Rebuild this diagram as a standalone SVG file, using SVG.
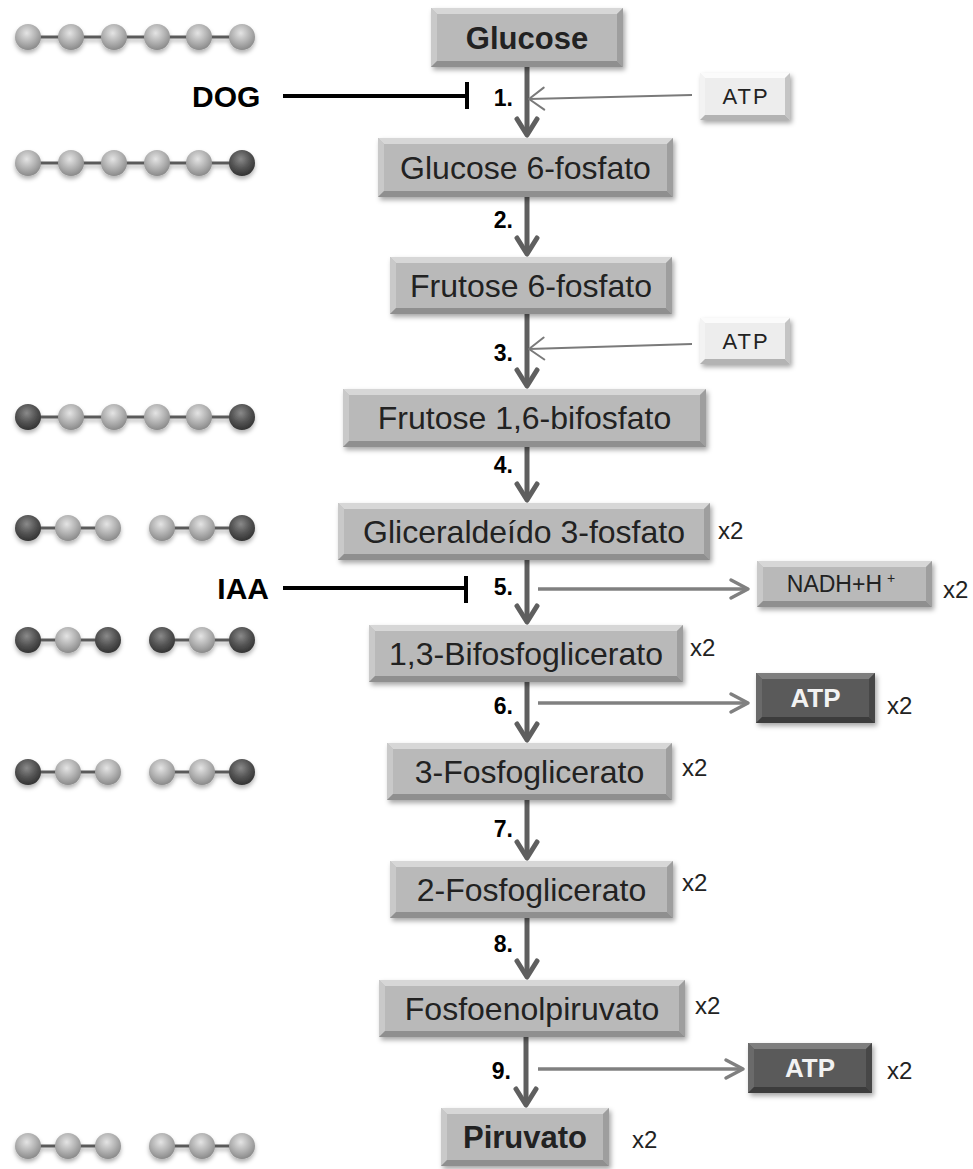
<svg xmlns="http://www.w3.org/2000/svg" width="973" height="1169" viewBox="0 0 973 1169">
<defs>
<style>
text{font-family:"Liberation Sans",Arial,sans-serif;}
.face{fill:#b9b9b9;filter:url(#sh);}
.bt{fill:#d7d7d7;} .bl{fill:#c9c9c9;} .br{fill:#9e9e9e;} .bb{fill:#8f8f8f;}
.lface{fill:#ededed;filter:url(#sh);}
.lbt{fill:#fbfbfb;} .lbl{fill:#f3f3f3;} .lbr{fill:#c4c4c4;} .lbb{fill:#b3b3b3;}
.dface{fill:#5a5a5a;filter:url(#sh);}
.dbt{fill:#7e7e7e;} .dbl{fill:#6a6a6a;} .dbr{fill:#474747;} .dbb{fill:#3c3c3c;}
.bx{font-size:32px;fill:#222;text-anchor:middle;}
.bxb{font-size:31px;font-weight:bold;fill:#222;text-anchor:middle;}
.atpl{font-size:22px;fill:#222;text-anchor:middle;letter-spacing:2px;}
.atpd{font-size:26px;font-weight:bold;fill:#f2f2f2;text-anchor:middle;}
.x2{font-size:24px;fill:#222;}
.step{font-size:23px;font-weight:bold;fill:#000;text-anchor:end;}
.inh{font-size:30px;font-weight:bold;fill:#000;}
.va{stroke:#5f5f5f;stroke-width:5;fill:none;marker-end:url(#mv);}
.ha{stroke:#808080;stroke-width:3.5;fill:none;marker-end:url(#mh);}
.ia{stroke:#7a7a7a;stroke-width:2;fill:none;marker-end:url(#mi);}
.blk{stroke:#000;stroke-width:4;fill:none;}
.bond{stroke:#5a5a5a;stroke-width:3;}
.lb{fill:url(#gl);} .db{fill:url(#gd);}
</style>
<filter id="sh" x="-10%" y="-20%" width="130%" height="160%">
<feDropShadow dx="2" dy="3" stdDeviation="2.5" flood-color="#000" flood-opacity="0.35"/>
</filter>
<filter id="bsh" x="-20%" y="-40%" width="140%" height="200%">
<feDropShadow dx="0" dy="3" stdDeviation="2" flood-color="#000" flood-opacity="0.3"/>
</filter>
<radialGradient id="gl" cx="0.45" cy="0.35" r="0.65">
<stop offset="0" stop-color="#e4e4e4"/><stop offset="0.55" stop-color="#b3b3b3"/><stop offset="1" stop-color="#8a8a8a"/>
</radialGradient>
<radialGradient id="gd" cx="0.45" cy="0.35" r="0.65">
<stop offset="0" stop-color="#8a8a8a"/><stop offset="0.55" stop-color="#555"/><stop offset="1" stop-color="#333"/>
</radialGradient>
<marker id="mv" markerUnits="userSpaceOnUse" orient="auto" refX="0" refY="0" markerWidth="30" markerHeight="30" overflow="visible">
<path d="M-16,-10 L0,0 L-16,10" fill="none" stroke="#5f5f5f" stroke-width="5" stroke-linecap="round" stroke-linejoin="round"/>
</marker>
<marker id="mh" markerUnits="userSpaceOnUse" orient="auto" refX="0" refY="0" markerWidth="30" markerHeight="30" overflow="visible">
<path d="M-17,-9 L0,0 L-17,9" fill="none" stroke="#808080" stroke-width="3.5" stroke-linecap="round" stroke-linejoin="round"/>
</marker>
<marker id="mi" markerUnits="userSpaceOnUse" orient="auto" refX="0" refY="0" markerWidth="30" markerHeight="30" overflow="visible">
<path d="M-15,-11 L0,0 L-15,11" fill="none" stroke="#7a7a7a" stroke-width="2" stroke-linecap="round" stroke-linejoin="round"/>
</marker>
</defs>
<rect width="973" height="1169" fill="#fff"/>

<g id="connectors">
<line class="va" x1="527" y1="67" x2="527" y2="135"/>
<line class="va" x1="527" y1="197" x2="527" y2="254"/>
<line class="va" x1="527" y1="314" x2="527" y2="386"/>
<line class="va" x1="527" y1="447" x2="527" y2="500"/>
<line class="va" x1="527" y1="560" x2="527" y2="622"/>
<line class="va" x1="527" y1="682" x2="527" y2="740"/>
<line class="va" x1="527" y1="800" x2="527" y2="858"/>
<line class="va" x1="527" y1="918" x2="527" y2="977"/>
<line class="va" x1="526" y1="1037" x2="526" y2="1105"/>
<line class="ia" x1="692" y1="95" x2="529" y2="99"/>
<line class="ia" x1="692" y1="344" x2="529" y2="349"/>
<line class="ha" x1="538" y1="589" x2="748" y2="589"/>
<line class="ha" x1="538" y1="703" x2="748" y2="703"/>
<line class="ha" x1="538" y1="1069" x2="743" y2="1069"/>
<line class="blk" x1="283" y1="96" x2="467" y2="96"/>
<line class="blk" x1="467" y1="82" x2="467" y2="109"/>
<line class="blk" x1="283" y1="588" x2="466" y2="588"/>
<line class="blk" x1="466" y1="576" x2="466" y2="603"/>
</g>

<g id="labels">
<text class="inh" x="192" y="107">DOG</text>
<text class="inh" x="269" y="599" text-anchor="end">IAA</text>
<text class="step" x="513" y="106">1.</text>
<text class="step" x="513" y="228">2.</text>
<text class="step" x="513" y="361">3.</text>
<text class="step" x="513" y="473">4.</text>
<text class="step" x="513" y="595">5.</text>
<text class="step" x="513" y="714">6.</text>
<text class="step" x="513" y="837">7.</text>
<text class="step" x="513" y="952">8.</text>
<text class="step" x="511" y="1079">9.</text>
<text class="x2" x="718" y="539">x2</text>
<text class="x2" x="943" y="598">x2</text>
<text class="x2" x="690" y="656">x2</text>
<text class="x2" x="887" y="714">x2</text>
<text class="x2" x="682" y="776">x2</text>
<text class="x2" x="682" y="891">x2</text>
<text class="x2" x="695" y="1014">x2</text>
<text class="x2" x="887" y="1079">x2</text>
<text class="x2" x="632" y="1148">x2</text>
</g>

<g id="glucose" transform="translate(431,8)">
<rect class="face" width="192" height="59"/>
<path class="bt" d="M0,0H192L186,6H6Z"/><path class="bl" d="M0,0L6,6V53L0,59Z"/>
<path class="br" d="M192,0V59L186,53V6Z"/><path class="bb" d="M0,59H192L186,53H6Z"/>
<text class="bxb" x="96" y="41">Glucose</text>
</g>
<g id="glucose6p" transform="translate(378,138)">
<rect class="face" width="295" height="59"/>
<path class="bt" d="M0,0H295L289,6H6Z"/><path class="bl" d="M0,0L6,6V53L0,59Z"/>
<path class="br" d="M295,0V59L289,53V6Z"/><path class="bb" d="M0,59H295L289,53H6Z"/>
<text class="bx" x="147.5" y="41">Glucose 6-fosfato</text>
</g>
<g id="frutose6p" transform="translate(390,257)">
<rect class="face" width="282" height="57"/>
<path class="bt" d="M0,0H282L276,6H6Z"/><path class="bl" d="M0,0L6,6V51L0,57Z"/>
<path class="br" d="M282,0V57L276,51V6Z"/><path class="bb" d="M0,57H282L276,51H6Z"/>
<text class="bx" x="141" y="40">Frutose 6-fosfato</text>
</g>
<g id="frutose16bp" transform="translate(343,389)">
<rect class="face" width="363" height="58"/>
<path class="bt" d="M0,0H363L357,6H6Z"/><path class="bl" d="M0,0L6,6V52L0,58Z"/>
<path class="br" d="M363,0V58L357,52V6Z"/><path class="bb" d="M0,58H363L357,52H6Z"/>
<text class="bx" x="181.5" y="40">Frutose 1,6-bifosfato</text>
</g>
<g id="gliceraldeido3p" transform="translate(338,503)">
<rect class="face" width="372" height="57"/>
<path class="bt" d="M0,0H372L366,6H6Z"/><path class="bl" d="M0,0L6,6V51L0,57Z"/>
<path class="br" d="M372,0V57L366,51V6Z"/><path class="bb" d="M0,57H372L366,51H6Z"/>
<text class="bx" x="186" y="40">Gliceraldeído 3-fosfato</text>
</g>
<g id="bifosfoglicerato" transform="translate(369,625)">
<rect class="face" width="314" height="57"/>
<path class="bt" d="M0,0H314L308,6H6Z"/><path class="bl" d="M0,0L6,6V51L0,57Z"/>
<path class="br" d="M314,0V57L308,51V6Z"/><path class="bb" d="M0,57H314L308,51H6Z"/>
<text class="bx" x="157" y="40">1,3-Bifosfoglicerato</text>
</g>
<g id="fosfoglicerato3" transform="translate(387,743)">
<rect class="face" width="285" height="57"/>
<path class="bt" d="M0,0H285L279,6H6Z"/><path class="bl" d="M0,0L6,6V51L0,57Z"/>
<path class="br" d="M285,0V57L279,51V6Z"/><path class="bb" d="M0,57H285L279,51H6Z"/>
<text class="bx" x="142.5" y="40">3-Fosfoglicerato</text>
</g>
<g id="fosfoglicerato2" transform="translate(390,861)">
<rect class="face" width="283" height="57"/>
<path class="bt" d="M0,0H283L277,6H6Z"/><path class="bl" d="M0,0L6,6V51L0,57Z"/>
<path class="br" d="M283,0V57L277,51V6Z"/><path class="bb" d="M0,57H283L277,51H6Z"/>
<text class="bx" x="141.5" y="40">2-Fosfoglicerato</text>
</g>
<g id="fosfoenolpiruvato" transform="translate(379,980)">
<rect class="face" width="306" height="57"/>
<path class="bt" d="M0,0H306L300,6H6Z"/><path class="bl" d="M0,0L6,6V51L0,57Z"/>
<path class="br" d="M306,0V57L300,51V6Z"/><path class="bb" d="M0,57H306L300,51H6Z"/>
<text class="bx" x="153" y="40">Fosfoenolpiruvato</text>
</g>
<g id="piruvato" transform="translate(441,1108)">
<rect class="face" width="168" height="58"/>
<path class="bt" d="M0,0H168L162,6H6Z"/><path class="bl" d="M0,0L6,6V52L0,58Z"/>
<path class="br" d="M168,0V58L162,52V6Z"/><path class="bb" d="M0,58H168L162,52H6Z"/>
<text class="bxb" x="84" y="40">Piruvato</text>
</g>

<g id="atp-in-1" transform="translate(700,73)">
<rect class="lface" width="90" height="47"/>
<path class="lbt" d="M0,0H90L85,5H5Z"/><path class="lbl" d="M0,0L5,5V42L0,47Z"/>
<path class="lbr" d="M90,0V47L85,42V5Z"/><path class="lbb" d="M0,47H90L85,42H5Z"/>
<text class="atpl" x="46" y="31">ATP</text>
</g>
<g id="atp-in-3" transform="translate(700,318)">
<rect class="lface" width="90" height="46"/>
<path class="lbt" d="M0,0H90L85,5H5Z"/><path class="lbl" d="M0,0L5,5V41L0,46Z"/>
<path class="lbr" d="M90,0V46L85,41V5Z"/><path class="lbb" d="M0,46H90L85,41H5Z"/>
<text class="atpl" x="46" y="31">ATP</text>
</g>
<g id="nadh" transform="translate(757,561)">
<rect class="face" width="175" height="46"/>
<path class="bt" d="M0,0H175L169,6H6Z"/><path class="bl" d="M0,0L6,6V40L0,46Z"/>
<path class="br" d="M175,0V46L169,40V6Z"/><path class="bb" d="M0,46H175L169,40H6Z"/>
<text x="84" y="31" font-size="23" fill="#222" text-anchor="middle">NADH+H<tspan font-size="14" dx="5" dy="-9">+</tspan></text>
</g>
<g id="atp-out-6" transform="translate(756,673)">
<rect class="dface" width="119" height="50"/>
<path class="dbt" d="M0,0H119L113,6H6Z"/><path class="dbl" d="M0,0L6,6V44L0,50Z"/>
<path class="dbr" d="M119,0V50L113,44V6Z"/><path class="dbb" d="M0,50H119L113,44H6Z"/>
<text class="atpd" x="59.5" y="34">ATP</text>
</g>
<g id="atp-out-9" transform="translate(748,1043)">
<rect class="dface" width="124" height="50"/>
<path class="dbt" d="M0,0H124L118,6H6Z"/><path class="dbl" d="M0,0L6,6V44L0,50Z"/>
<path class="dbr" d="M124,0V50L118,44V6Z"/><path class="dbb" d="M0,50H124L118,44H6Z"/>
<text class="atpd" x="62" y="34">ATP</text>
</g>

<g id="mol-glucose" filter="url(#bsh)">
<line class="bond" x1="28" y1="37" x2="242" y2="37"/>
<circle class="lb" cx="28" cy="37" r="13"/><circle class="lb" cx="71" cy="37" r="13"/><circle class="lb" cx="114" cy="37" r="13"/>
<circle class="lb" cx="157" cy="37" r="13"/><circle class="lb" cx="199" cy="37" r="13"/><circle class="lb" cx="242" cy="37" r="13"/>
</g>
<g id="mol-g6p" filter="url(#bsh)">
<line class="bond" x1="28" y1="163" x2="242" y2="163"/>
<circle class="lb" cx="28" cy="163" r="13"/><circle class="lb" cx="71" cy="163" r="13"/><circle class="lb" cx="114" cy="163" r="13"/>
<circle class="lb" cx="157" cy="163" r="13"/><circle class="lb" cx="199" cy="163" r="13"/><circle class="db" cx="242" cy="163" r="13"/>
</g>
<g id="mol-f16bp" filter="url(#bsh)">
<line class="bond" x1="28" y1="417" x2="242" y2="417"/>
<circle class="db" cx="28" cy="417" r="13"/><circle class="lb" cx="71" cy="417" r="13"/><circle class="lb" cx="114" cy="417" r="13"/>
<circle class="lb" cx="157" cy="417" r="13"/><circle class="lb" cx="199" cy="417" r="13"/><circle class="db" cx="242" cy="417" r="13"/>
</g>
<g id="mol-ga3p" filter="url(#bsh)">
<line class="bond" x1="28" y1="528" x2="108" y2="528"/><line class="bond" x1="162" y1="528" x2="242" y2="528"/>
<circle class="db" cx="28" cy="528" r="13"/><circle class="lb" cx="68" cy="528" r="13"/><circle class="lb" cx="108" cy="528" r="13"/>
<circle class="lb" cx="162" cy="528" r="13"/><circle class="lb" cx="202" cy="528" r="13"/><circle class="db" cx="242" cy="528" r="13"/>
</g>
<g id="mol-13bpg" filter="url(#bsh)">
<line class="bond" x1="28" y1="640" x2="108" y2="640"/><line class="bond" x1="162" y1="640" x2="242" y2="640"/>
<circle class="db" cx="28" cy="640" r="13"/><circle class="lb" cx="68" cy="640" r="13"/><circle class="db" cx="108" cy="640" r="13"/>
<circle class="db" cx="162" cy="640" r="13"/><circle class="lb" cx="202" cy="640" r="13"/><circle class="db" cx="242" cy="640" r="13"/>
</g>
<g id="mol-3pg" filter="url(#bsh)">
<line class="bond" x1="28" y1="772" x2="108" y2="772"/><line class="bond" x1="162" y1="772" x2="242" y2="772"/>
<circle class="db" cx="28" cy="772" r="13"/><circle class="lb" cx="68" cy="772" r="13"/><circle class="lb" cx="108" cy="772" r="13"/>
<circle class="lb" cx="162" cy="772" r="13"/><circle class="lb" cx="202" cy="772" r="13"/><circle class="db" cx="242" cy="772" r="13"/>
</g>
<g id="mol-piruvato" filter="url(#bsh)">
<line class="bond" x1="28" y1="1146" x2="108" y2="1146"/><line class="bond" x1="162" y1="1146" x2="242" y2="1146"/>
<circle class="lb" cx="28" cy="1146" r="13"/><circle class="lb" cx="68" cy="1146" r="13"/><circle class="lb" cx="108" cy="1146" r="13"/>
<circle class="lb" cx="162" cy="1146" r="13"/><circle class="lb" cx="202" cy="1146" r="13"/><circle class="lb" cx="242" cy="1146" r="13"/>
</g>
</svg>
